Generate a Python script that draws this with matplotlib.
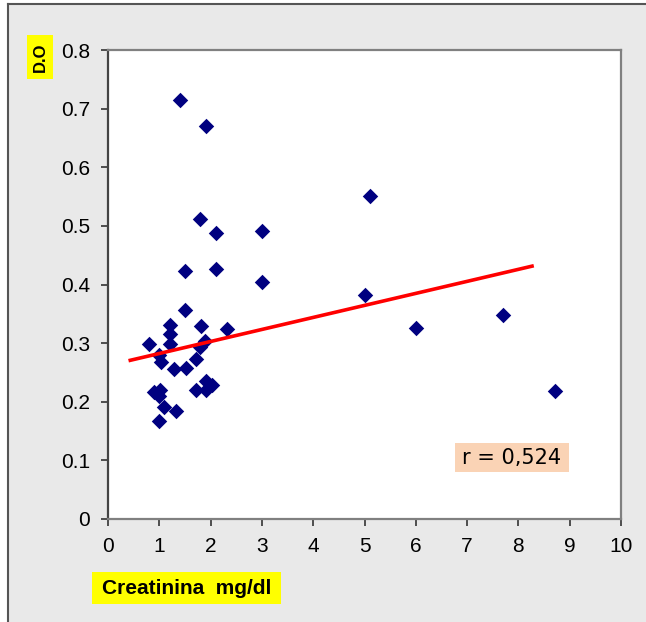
import numpy as np
import matplotlib
matplotlib.use('Agg')
import matplotlib.pyplot as plt
from matplotlib.patches import Rectangle
from matplotlib.lines import Line2D

# Creatinina (mg/dl) vs D.O values
creat = [1.40, 1.91, 5.10, 1.79, 2.10, 3.00, 1.50, 2.10, 3.00, 5.00,
         1.50, 1.20, 1.81, 2.32, 6.00, 7.70, 1.20, 0.80, 1.20, 1.89,
         1.79, 1.00, 1.03, 1.71, 1.29, 1.52, 0.90, 1.01, 1.00, 1.71,
         1.91, 1.91, 2.02, 1.10, 1.32, 1.00, 8.71]
do_vals = [0.715, 0.670, 0.551, 0.512, 0.488, 0.491, 0.423, 0.427, 0.404, 0.382,
           0.357, 0.331, 0.329, 0.324, 0.326, 0.348, 0.316, 0.298, 0.298, 0.303,
           0.294, 0.280, 0.268, 0.273, 0.256, 0.258, 0.217, 0.220, 0.210, 0.220,
           0.236, 0.220, 0.229, 0.191, 0.185, 0.168, 0.218]

trend_x = [0.4, 8.3]
trend_y = [0.270, 0.432]

x_ticks = list(range(0, 11))
y_ticks = [0, 0.1, 0.2, 0.3, 0.4, 0.5, 0.6, 0.7, 0.8]
r_label = 'r = 0,524'

W, H = 646, 622
fig = plt.figure(figsize=(W / 100, H / 100), dpi=100)
fig.patch.set_facecolor('white')

def px(x0, y0, x1, y1):
    # pixel box (top-left origin) -> figure fraction rect
    return (x0 / W, 1 - y1 / H, (x1 - x0) / W, (y1 - y0) / H)

# grey chart area, border only on the left and top
r = px(8, 4, W, H)
fig.add_artist(Rectangle(r[:2], r[2], r[3], transform=fig.transFigure,
                         facecolor='#e9e9e9', edgecolor='none', lw=0, zorder=0))
fig.add_artist(Line2D([8 / W, 8 / W], [0, 1 - 4 / H], transform=fig.transFigure,
                      color='#555555', lw=1.5, zorder=1))
fig.add_artist(Line2D([8 / W, 1.01], [1 - 4 / H, 1 - 4 / H], transform=fig.transFigure,
                      color='#555555', lw=1.5, zorder=1))

ax = fig.add_axes(px(108, 50, 621, 519))
ax.set_facecolor('white')
ax.scatter(creat, do_vals, marker='D', s=62, color='#000080', zorder=3, linewidths=0)
ax.plot(trend_x, trend_y, color='#ff0000', lw=2.6, zorder=4, solid_capstyle='butt')

ax.set_xlim(0, 10)
ax.set_ylim(0, 0.8)
ax.set_xticks(x_ticks)
ax.set_yticks(y_ticks)
ax.set_xticklabels([str(t) for t in x_ticks])
ax.set_yticklabels(['0' if t == 0 else f'{t:.1f}' for t in y_ticks])
ax.tick_params(axis='both', direction='out', length=5, width=1.2, colors='#333333',
               labelsize=15, labelcolor='black')
ax.tick_params(axis='y', pad=8)
ax.tick_params(axis='x', pad=8)
for lab in ax.get_xticklabels() + ax.get_yticklabels():
    lab.set_fontfamily('Liberation Sans')

ax.spines['left'].set_color('#444444')
ax.spines['left'].set_linewidth(1.6)
for side in ['bottom', 'right', 'top']:
    ax.spines[side].set_color('#808080')
    ax.spines[side].set_linewidth(1.6)

# r label box
r = px(455, 443, 569, 472)
fig.add_artist(Rectangle(r[:2], r[2], r[3], transform=fig.transFigure,
                         facecolor='#fad3b5', edgecolor='none', zorder=5))
fig.text(512 / W, 1 - 458 / H, r_label, ha='center', va='center', fontsize=15,
         family='DejaVu Sans', zorder=6)

# axis titles on yellow boxes
r = px(92, 572, 281, 604)
fig.add_artist(Rectangle(r[:2], r[2], r[3], transform=fig.transFigure,
                         facecolor='#ffff00', edgecolor='none', zorder=5))
fig.text(186.5 / W, 1 - 588 / H, 'Creatinina  mg/dl', ha='center', va='center',
         fontsize=15, fontweight='bold', family='Liberation Sans', zorder=6)

r = px(27, 35, 53, 79)
fig.add_artist(Rectangle(r[:2], r[2], r[3], transform=fig.transFigure,
                         facecolor='#ffff00', edgecolor='none', zorder=5))
fig.text(40.5 / W, 1 - 57.5 / H, 'D.O', ha='center', va='center', rotation=90,
         fontsize=12, fontweight='bold', family='Liberation Sans', zorder=6)

fig.savefig('out.png', dpi=100)
